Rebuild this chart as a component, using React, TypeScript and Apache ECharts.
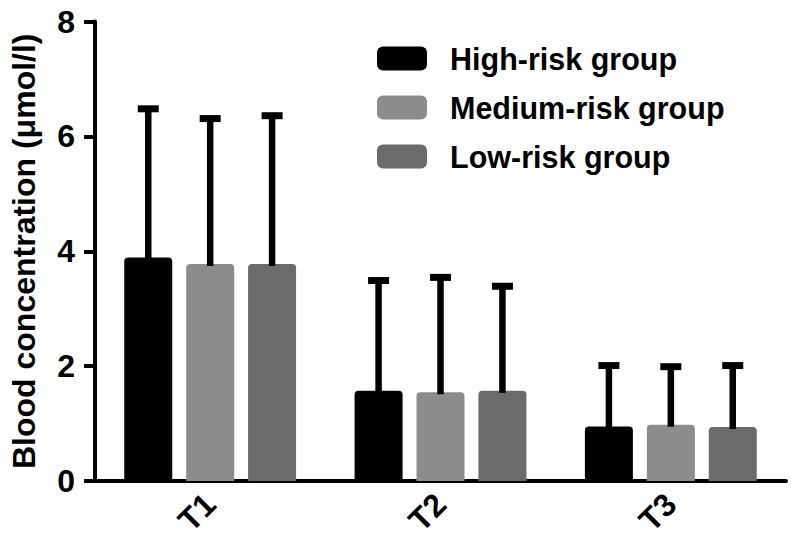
import React, { useEffect, useRef } from "react";
import * as echarts from "echarts";

const categories = ["T1", "T2", "T3"];
const groupNames = ["High-risk group", "Medium-risk group", "Low-risk group"];
const groupColors = ["#000000", "#8c8c8c", "#6b6b6b"];
const highMean = [3.89, 1.57, 0.95];
const highSD = [2.59, 1.92, 1.06];
const mediumMean = [3.78, 1.545, 0.98];
const mediumSD = [2.53, 2.0, 1.01];
const lowMean = [3.78, 1.57, 0.94];
const lowSD = [2.58, 1.82, 1.07];
const yMin = 0;
const yMax = 8;
const yInterval = 2;

const means = [highMean, mediumMean, lowMean];
const sds = [highSD, mediumSD, lowSD];

const FONT = "'Liberation Sans', Arial, Helvetica, sans-serif";
const BAR_W = 48;
const GAP_RATIO = 0.29;

export default function App() {
  const ref = useRef<HTMLDivElement>(null);
  useEffect(() => {
    if (!ref.current) return;
    const chart = echarts.init(ref.current, null, { renderer: "svg" });
    const barSeries = groupNames.map((name, g) => ({
      name,
      type: "bar",
      data: means[g],
      barWidth: BAR_W,
      barGap: GAP_RATIO * 100 + "%",
      itemStyle: { color: groupColors[g], borderRadius: [4, 4, 0, 0] },
      z: 2,
    }));
    const errSeries = groupNames.map((name, g) => ({
      name: name + " SD",
      type: "custom",
      z: 3,
      encode: { x: 0, y: 1 },
      data: categories.map((c, i) => [i, means[g][i], sds[g][i]]),
      renderItem: (params: any, api: any) => {
        const cat = api.value(0);
        const mean = api.value(1);
        const sd = api.value(2);
        const base = api.coord([cat, mean]);
        const top = api.coord([cat, mean + sd]);
        const offset = (g - 1) * BAR_W * (1 + GAP_RATIO);
        const x = base[0] + offset;
        return {
          type: "group",
          children: [
            {
              type: "line",
              shape: { x1: x, y1: base[1] + 2, x2: x, y2: top[1] },
              style: { stroke: "#000", lineWidth: 6.5 },
            },
            {
              type: "rect",
              shape: { x: x - 10.5, y: top[1] - 3.5, width: 21, height: 7 },
              style: { fill: "#000" },
            },
          ],
        };
      },
    }));
    chart.setOption({
      animation: false,
      grid: { left: 93, right: 5, top: 21.5, bottom: 75, containLabel: false },
      legend: {
        data: groupNames,
        orient: "vertical",
        left: 377,
        top: 43,
        padding: 0,
        itemWidth: 50,
        itemHeight: 24,
        itemGap: 18,
        icon: "roundRect",
        textStyle: {
          fontFamily: FONT,
          fontWeight: "bold",
          fontSize: 30.5,
          lineHeight: 24,
          color: "#000",
          padding: [0, 0, 0, 18],
        },
      },
      xAxis: {
        type: "category",
        data: categories,
        axisLine: { lineStyle: { color: "#000", width: 4 } },
        axisTick: { alignWithLabel: true, length: 11, lineStyle: { color: "#000", width: 4 } },
        axisLabel: {
          rotate: 45,
          margin: 18,
          fontFamily: FONT,
          fontWeight: "bold",
          fontSize: 32,
          color: "#000",
        },
      },
      yAxis: {
        type: "value",
        min: yMin,
        max: yMax,
        interval: yInterval,
        name: "Blood concentration (μmol/l)",
        nameLocation: "middle",
        nameGap: 55,
        nameTextStyle: {
          fontFamily: FONT,
          fontWeight: "bold",
          fontSize: 32,
          color: "#000",
        },
        splitLine: { show: false },
        axisLine: { show: true, lineStyle: { color: "#000", width: 4 } },
        axisTick: { show: true, length: 11, lineStyle: { color: "#000", width: 4 } },
        axisLabel: {
          margin: 20,
          fontFamily: FONT,
          fontWeight: "bold",
          fontSize: 32,
          color: "#000",
        },
      },
      series: [...barSeries, ...errSeries],
    });
    return () => chart.dispose();
  }, []);
  return (
    <div
      ref={ref}
      style={{ position: "fixed", left: 0, top: 0, width: 791, height: 556, background: "#fff" }}
    />
  );
}
